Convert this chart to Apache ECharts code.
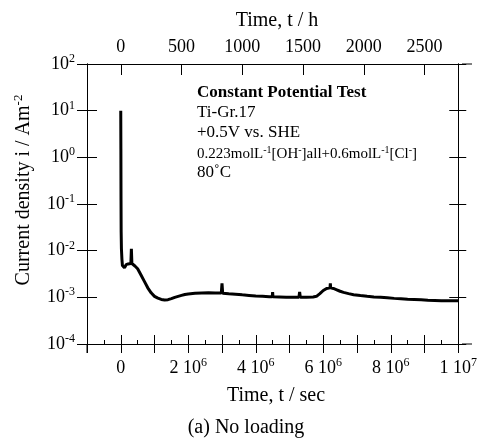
<!DOCTYPE html>
<html><head><meta charset="utf-8">
<script src="https://cdn.jsdelivr.net/npm/echarts@6/dist/echarts.min.js"></script>
<style>html,body{margin:0;padding:0;background:#fff}#c{width:480px;height:438px}</style>
</head><body><div id="c"></div>
<script>
// ---- data (time in seconds, current density in A/m^2) ----
const timeSec = [
  0, 0.004e6, 0.008e6, 0.012e6, 0.02e6, 0.035e6, 0.05e6, 0.07e6, 0.09e6, 0.11e6,
  0.13e6, 0.16e6, 0.19e6, 0.22e6, 0.26e6, 0.3e6, 0.315e6, 0.33e6, 0.36e6, 0.42e6,
  0.5e6, 0.6e6, 0.7e6, 0.8e6, 0.9e6, 1.0e6, 1.1e6, 1.2e6, 1.3e6, 1.4e6,
  1.5e6, 1.6e6, 1.7e6, 1.8e6, 1.9e6, 2.0e6, 2.2e6, 2.4e6, 2.6e6, 2.8e6,
  2.98e6, 3.0e6, 3.02e6, 3.2e6, 3.4e6, 3.6e6, 3.8e6, 4.0e6, 4.2e6, 4.4e6,
  4.49e6, 4.5e6, 4.51e6, 4.7e6, 4.9e6, 5.1e6, 5.28e6, 5.3e6, 5.32e6, 5.5e6,
  5.7e6, 5.8e6, 5.9e6, 6.0e6, 6.1e6, 6.2e6, 6.21e6, 6.22e6, 6.3e6, 6.4e6,
  6.5e6, 6.6e6, 6.75e6, 6.9e6, 7.1e6, 7.3e6, 7.5e6, 7.7e6, 7.9e6, 8.1e6,
  8.3e6, 8.5e6, 8.7e6, 8.9e6, 9.1e6, 9.3e6, 9.5e6, 9.7e6, 9.9e6, 10.0e6
];
const currentDensity = [
  10, 1.5, 0.12, 0.025, 0.011, 0.0065, 0.0048, 0.0044, 0.0046, 0.0043,
  0.0047, 0.005, 0.0048, 0.0052, 0.0051, 0.0053, 0.011, 0.0053, 0.0051, 0.0047,
  0.0041, 0.003, 0.0022, 0.0016, 0.00125, 0.00105, 0.00096, 0.0009, 0.00088, 0.00089,
  0.00094, 0.001, 0.00105, 0.0011, 0.00115, 0.00118, 0.00122, 0.00124, 0.00125, 0.00124,
  0.00124, 0.002, 0.00123, 0.0012, 0.00117, 0.00113, 0.0011, 0.00107, 0.00105, 0.00103,
  0.00103, 0.0013, 0.00103, 0.00102, 0.00101, 0.00101, 0.00101, 0.0013, 0.00101, 0.00101,
  0.00102, 0.00105, 0.0012, 0.0014, 0.00155, 0.0016, 0.002, 0.0016, 0.00155, 0.00145,
  0.00135, 0.00128, 0.0012, 0.00114, 0.00109, 0.00105, 0.00102, 0.001, 0.00098, 0.00095,
  0.00093, 0.00091, 0.0009, 0.00089, 0.00087, 0.00086, 0.00085, 0.00085, 0.00085, 0.00085
];
// bottom axis (seconds) tick labels: mantissa and exponent
const secTickValues = [0, 2e6, 4e6, 6e6, 8e6, 1e7];
const secTickMantissa = ['0', '2', '4', '6', '8', '1'];
const secTickExponent = ['', '6', '6', '6', '6', '7'];
// top axis (hours) tick labels
const hourTickValues = [0, 500, 1000, 1500, 2000, 2500];
// y axis range (decades)
const yMin = 1e-4, yMax = 1e2;
const xMinSec = -1e6, xMaxSec = 1e7;

const FONT = "'Liberation Serif','Times New Roman',serif";
const GL = 87, GT = 64, GW = 375, GH = 280;

const rich = {
  b: {fontFamily: FONT, fontSize: 18, color: '#000', lineHeight: 22},
  s: {fontFamily: FONT, fontSize: 12, color: '#000', lineHeight: 12, verticalAlign: 'top'}
};

const chart = echarts.init(document.getElementById('c'), null, {renderer: 'canvas'});
const blackLine = {show: true, onZero: false, lineStyle: {color: '#000', width: 1}};

function secLabel(v) {
  for (let k = 0; k < secTickValues.length; k++) {
    if (Math.abs(v - secTickValues[k]) < 1) {
      if (!secTickExponent[k]) return '{b|' + secTickMantissa[k] + '}';
      return '{b|' + secTickMantissa[k] + ' 10}{s|' + secTickExponent[k] + '}';
    }
  }
  return '';
}
function yLabel(v) {
  const e = Math.round(Math.log10(v));
  return '{b|10}{s|' + e + '}';
}

const option = {
  animation: false,
  backgroundColor: '#fff',
  grid: {left: GL, top: GT, width: GW, height: GH, containLabel: false},
  xAxis: [
    { type: 'value', position: 'bottom', min: xMinSec, max: xMaxSec, interval: 1e6,
      axisLine: blackLine, splitLine: {show: false},
      axisTick: {show: true, inside: true, length: 9, lineStyle: {color: '#000'}},
      minorTick: {show: true, splitNumber: 2, length: 4, lineStyle: {color: '#000'}},
      axisLabel: {show: true, interval: 0, margin: 13, formatter: secLabel, rich: rich,
                  showMinLabel: true, showMaxLabel: true, hideOverlap: false} },
    { type: 'value', position: 'bottom', min: xMinSec, max: xMaxSec, interval: 1e6,
      axisLine: blackLine, splitLine: {show: false},
      axisTick: {show: true, inside: false, length: 9, lineStyle: {color: '#000'}},
      axisLabel: {show: false} },
    { type: 'value', position: 'top', min: xMinSec / 3600, max: xMaxSec / 3600,
      axisLine: blackLine, splitLine: {show: false},
      axisTick: {show: true, inside: true, length: 11, customValues: hourTickValues, lineStyle: {color: '#000'}},
      axisLabel: {show: true, margin: 6, customValues: hourTickValues,
                  formatter: v => '{b|' + v + '}', rich: rich} }
  ],
  yAxis: [
    { type: 'log', logBase: 10, position: 'left', min: yMin, max: yMax, interval: 1,
      axisLine: blackLine, splitLine: {show: false},
      axisTick: {show: true, inside: false, length: 10, lineStyle: {color: '#000'}},
      axisLabel: {show: true, margin: 12, formatter: yLabel, rich: rich, showMinLabel: true, showMaxLabel: true} },
    { type: 'log', logBase: 10, position: 'left', min: yMin, max: yMax, interval: 1,
      axisLine: blackLine, splitLine: {show: false},
      axisTick: {show: true, inside: true, length: 10, lineStyle: {color: '#000'}},
      axisLabel: {show: false} },
    { type: 'log', logBase: 10, position: 'right', min: yMin, max: yMax, interval: 1,
      axisLine: blackLine, splitLine: {show: false},
      axisTick: {show: true, inside: true, length: 9, lineStyle: {color: '#000'}},
      axisLabel: {show: false} },
    { type: 'log', logBase: 10, position: 'right', min: yMin, max: yMax, interval: 1,
      axisLine: blackLine, splitLine: {show: false},
      axisTick: {show: true, inside: false, length: 8, lineStyle: {color: '#000'}},
      axisLabel: {show: false} }
  ],
  series: [{
    type: 'line', xAxisIndex: 0, yAxisIndex: 0, showSymbol: false, symbol: 'none',
    lineStyle: {color: '#000', width: 3}, z: 5,
    data: timeSec.map((t, k) => [t, currentDensity[k]])
  }],
  graphic: [
    // axis line extensions
    {type: 'line', shape: {x1: GL + GW, y1: GT + GH, x2: GL + GW + 10, y2: GT + GH}, style: {stroke: '#000', lineWidth: 1}},
    {type: 'line', shape: {x1: GL + GW, y1: GT, x2: GL + GW + 10, y2: GT}, style: {stroke: '#000', lineWidth: 1}},
    {type: 'line', shape: {x1: GL, y1: GT + GH, x2: GL, y2: GT + GH + 9}, style: {stroke: '#000', lineWidth: 1}},
    // axis titles
    {type: 'text', x: 277, y: 21, style: {text: 'Time, t / h', font: '20px ' + FONT, fill: '#000', align: 'center', verticalAlign: 'middle'}},
    {type: 'text', x: 276, y: 396, style: {text: 'Time, t / sec', font: '20px ' + FONT, fill: '#000', align: 'center', verticalAlign: 'middle'}},
    {type: 'text', x: 246, y: 428, style: {text: '(a) No loading', font: '20px ' + FONT, fill: '#000', align: 'center', verticalAlign: 'middle'}},
    {type: 'text', x: 24, y: 190, rotation: Math.PI / 2,
     style: {text: '{t|Current density i / Am}{s|-2}', align: 'center', verticalAlign: 'middle',
             rich: {t: {fontFamily: FONT, fontSize: 20, color: '#000', lineHeight: 24},
                    s: {fontFamily: FONT, fontSize: 13, color: '#000', lineHeight: 13, verticalAlign: 'top'}}}},
    // annotation block
    {type: 'text', x: 197, y: 93, style: {text: 'Constant Potential Test', font: 'bold 17px ' + FONT, fill: '#000', align: 'left', verticalAlign: 'middle'}},
    {type: 'text', x: 197, y: 113, style: {text: 'Ti-Gr.17', font: '17px ' + FONT, fill: '#000', align: 'left', verticalAlign: 'middle'}},
    {type: 'text', x: 197, y: 133, style: {text: '+0.5V vs. SHE', font: '17px ' + FONT, fill: '#000', align: 'left', verticalAlign: 'middle'}},
    {type: 'text', x: 197, y: 154,
     style: {text: '{t|0.223molL}{s|-1}{t|[OH}{s|-}{t|]all+0.6molL}{s|-1}{t|[Cl}{s|-}{t|]}', align: 'left', verticalAlign: 'middle',
             rich: {t: {fontFamily: FONT, fontSize: 15, color: '#000', lineHeight: 18},
                    s: {fontFamily: FONT, fontSize: 10, color: '#000', lineHeight: 10, verticalAlign: 'top'}}}},
    {type: 'text', x: 197, y: 173, style: {text: '80˚C', font: '17px ' + FONT, fill: '#000', align: 'left', verticalAlign: 'middle'}}
  ]
};
chart.setOption(option);
</script>
</body></html>
